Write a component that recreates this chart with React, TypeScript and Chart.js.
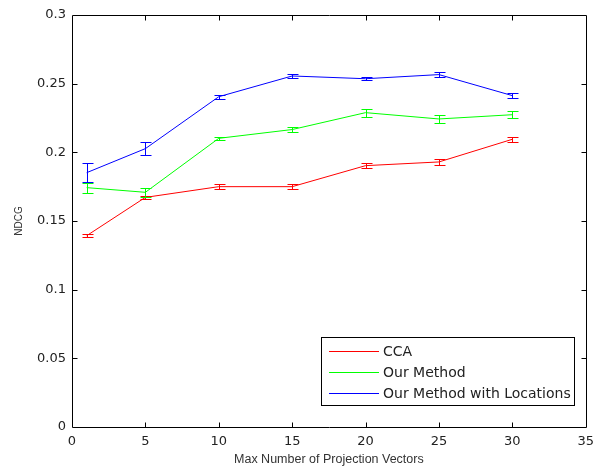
import { useEffect, useRef } from "react";
import { Chart, registerables } from "chart.js";

Chart.register(...registerables);

const xValues = [1, 5, 10, 15, 20, 25, 30];
const seriesNames = ["CCA", "Our Method", "Our Method with Locations"];
const seriesColors = ["#ff0000", "#00ff00", "#0000ff"];

const ccaValues = [0.1393, 0.1672, 0.175, 0.175, 0.1903, 0.193, 0.2095];
const ccaErrors = [0.001, 0.0012, 0.0018, 0.0018, 0.0018, 0.0025, 0.002];

const ourValues = [0.1743, 0.1709, 0.2102, 0.2166, 0.2289, 0.2243, 0.2274];
const ourErrors = [0.0037, 0.0032, 0.001, 0.0015, 0.003, 0.0028, 0.0025];

const locValues = [0.1852, 0.2027, 0.2405, 0.2556, 0.2536, 0.2566, 0.2413];
const locErrors = [0.007, 0.0045, 0.0015, 0.0015, 0.0012, 0.0017, 0.0018];

const xAxisTitle = "Max Number of Projection Vectors";
const yAxisTitle = "NDCG";

const allValues = [ccaValues, ourValues, locValues];
const allErrors = [ccaErrors, ourErrors, locErrors];

const errorBarPlugin = {
  id: "errorBars",
  afterDatasetsDraw(chart: any) {
    const ctx = chart.ctx;
    const yScale = chart.scales.y;
    chart.data.datasets.forEach((ds: any, i: number) => {
      const meta = chart.getDatasetMeta(i);
      ctx.save();
      ctx.strokeStyle = seriesColors[i];
      ctx.lineWidth = 1;
      meta.data.forEach((pt: any, j: number) => {
        const v = ds.data[j].y;
        const e = ds.errors[j];
        const yTop = Math.round(yScale.getPixelForValue(v + e)) + 0.5;
        const yBot = Math.round(yScale.getPixelForValue(v - e)) + 0.5;
        const x = Math.round(pt.x) + 0.5;
        ctx.beginPath();
        ctx.moveTo(x, yTop);
        ctx.lineTo(x, yBot);
        ctx.moveTo(x - 5, yTop);
        ctx.lineTo(x + 6, yTop);
        ctx.moveTo(x - 5, yBot);
        ctx.lineTo(x + 6, yBot);
        ctx.stroke();
      });
      ctx.restore();
    });
  },
};

const framePlugin = {
  id: "matlabFrame",
  afterDraw(chart: any) {
    const ctx = chart.ctx;
    const { left, right, top, bottom } = chart.chartArea;
    const l = Math.round(left) + 0.5;
    const r = Math.round(right) + 0.5;
    const t = Math.round(top) + 0.5;
    const b = Math.round(bottom) + 0.5;
    ctx.save();
    ctx.strokeStyle = "#000";
    ctx.lineWidth = 1;
    ctx.beginPath();
    ctx.rect(l, t, r - l, b - t);
    ctx.stroke();
    const tl = 5;
    const xs = chart.scales.x;
    xs.ticks.forEach((tk: any) => {
      const px = Math.round(xs.getPixelForValue(tk.value)) + 0.5;
      if (px <= l + 1 || px >= r - 1) return;
      ctx.beginPath();
      ctx.moveTo(px, b);
      ctx.lineTo(px, b - tl);
      ctx.moveTo(px, t);
      ctx.lineTo(px, t + tl);
      ctx.stroke();
    });
    const ys = chart.scales.y;
    ys.ticks.forEach((tk: any) => {
      const py = Math.round(ys.getPixelForValue(tk.value)) + 0.5;
      if (py <= t + 1 || py >= b - 1) return;
      ctx.beginPath();
      ctx.moveTo(l, py);
      ctx.lineTo(l + tl, py);
      ctx.moveTo(r, py);
      ctx.lineTo(r - tl, py);
      ctx.stroke();
    });
    ctx.restore();
  },
};

const legendPlugin = {
  id: "matlabLegend",
  afterDatasetsDraw(chart: any) {
    const ctx = chart.ctx;
    const bx = 321.5;
    const by = 337.5;
    const bw = 253;
    const bh = 68;
    ctx.save();
    ctx.fillStyle = "#fff";
    ctx.fillRect(bx, by, bw, bh);
    ctx.strokeStyle = "#000";
    ctx.lineWidth = 1;
    ctx.strokeRect(bx, by, bw, bh);
    ctx.font = "14px 'DejaVu Sans'";
    ctx.textBaseline = "middle";
    ctx.textAlign = "left";
    const rows = [351, 372, 393];
    chart.data.datasets.forEach((ds: any, i: number) => {
      const y = rows[i] + 0.5;
      ctx.strokeStyle = seriesColors[i];
      ctx.beginPath();
      ctx.moveTo(329, y);
      ctx.lineTo(379, y);
      ctx.stroke();
      ctx.fillStyle = "#222";
      ctx.fillText(ds.label, 383, rows[i] + 1);
    });
    ctx.restore();
  },
};

export default function App() {
  const canvasRef = useRef<HTMLCanvasElement | null>(null);

  useEffect(() => {
    const canvas = canvasRef.current;
    if (!canvas) return;
    const datasets = seriesNames.map((name, i) => ({
      label: name,
      data: xValues.map((x, j) => ({ x, y: allValues[i][j] })),
      errors: allErrors[i],
      borderColor: seriesColors[i],
      backgroundColor: seriesColors[i],
      borderWidth: 1,
      pointRadius: 0,
      pointHoverRadius: 0,
      tension: 0,
      fill: false,
    }));
    const chart = new Chart(canvas, {
      type: "line",
      data: { datasets } as any,
      options: {
        animation: false,
        responsive: false,
        devicePixelRatio: 1,
        layout: { padding: { top: 15, right: 9, left: 0, bottom: 0 } },
        plugins: {
          legend: { display: false },
          tooltip: { enabled: false },
        },
        scales: {
          x: {
            type: "linear",
            min: 0,
            max: 35,
            ticks: {
              stepSize: 5,
              padding: 7,
              color: "#222",
              font: { family: "'DejaVu Sans'", size: 13 },
            },
            grid: { drawOnChartArea: false, drawTicks: false },
            border: { display: false },
            title: {
              display: true,
              text: xAxisTitle,
              color: "#333",
              font: { family: "'Liberation Sans', Arial", size: 12.5 },
              padding: { top: 0, bottom: 6 },
            },
            afterFit: (scale: any) => {
              scale.height = 46;
            },
          },
          y: {
            type: "linear",
            min: 0,
            max: 0.3,
            ticks: {
              stepSize: 0.05,
              padding: 6,
              color: "#222",
              font: { family: "'DejaVu Sans'", size: 13 },
              callback: (v: any) => String(Number(Number(v).toFixed(2))),
            },
            grid: { drawOnChartArea: false, drawTicks: false },
            border: { display: false },
            title: {
              display: true,
              text: yAxisTitle,
              color: "#333",
              font: { family: "'Liberation Sans', Arial", size: 10 },
              padding: { top: 13, bottom: 0 },
            },
            afterFit: (scale: any) => {
              scale.width = 72;
            },
          },
        },
      },
      plugins: [errorBarPlugin, framePlugin, legendPlugin],
    });
    return () => chart.destroy();
  }, []);

  return (
    <div style={{ position: "fixed", left: 0, top: 0, width: 601, height: 473, background: "#fff" }}>
      <canvas ref={canvasRef} width={601} height={473} style={{ display: "block" }} />
    </div>
  );
}
